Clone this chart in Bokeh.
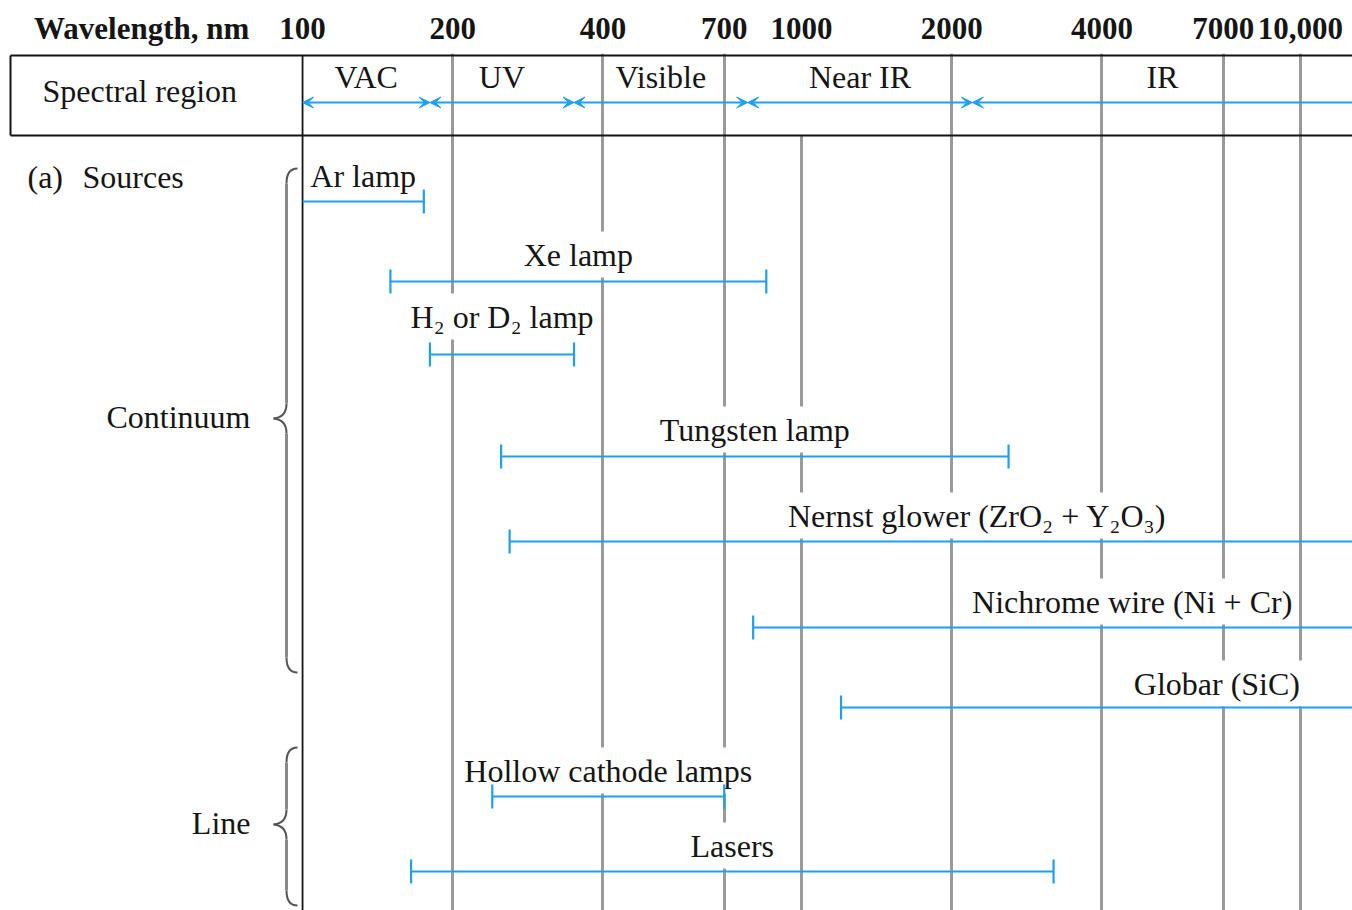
import numpy as np
from bokeh.plotting import figure
from bokeh.models import Range1d, FixedTicker, ColumnDataSource, Arrow, VeeHead, LinearScale
from bokeh.core.properties import value
from bokeh.embed import file_html
from bokeh.resources import INLINE

# ---------------- data ----------------
tick_values = [100, 200, 400, 700, 1000, 2000, 4000, 7000, 10000]
tick_labels = ["100", "200", "400", "700", "1000", "2000", "4000", "7000", "10,000"]
axis_title = "Wavelength, nm"

regions = ["VAC", "UV", "Visible", "Near IR", "IR"]
region_start = [100, 180, 350, 780, 2200]
region_end = [180, 350, 780, 2200, None]          # None = continues past the chart

sources = ["Ar lamp", "Xe lamp", "H\u2082 or D\u2082 lamp", "Tungsten lamp",
           "Nernst glower (ZrO\u2082 + Y\u2082O\u2083)", "Nichrome wire (Ni + Cr)",
           "Globar (SiC)", "Hollow cathode lamps", "Lasers"]
source_start = [100, 150, 180, 250, 260, 800, 1200, 240, 165]
source_end = [175, 850, 350, 2600, None, None, None, 700, 3200]
source_kind = ["Continuum"] * 7 + ["Line"] * 2

# ---------------- layout / style ----------------
W, H = 1352, 910
X_MIN, X_MAX = 24.81, 12714.0
AXIS_TITLE_AT = 47.6                 # where the axis title sits on the wavelength scale
FAR = 1e6
TDY = -12                            # baseline correction for text glyphs
row_y = [146, 226, 299, 401, 486, 572, 652, 741, 816]
label_gap = [14, 15, 26, 15, 14, 14, 12, 14, 14]
open_label_at = {4: 2250, 5: 4600, 6: 6800}
BLUE = "#1f9ff0"
GRID = "#9a9a9a"
INK = "#151515"
FONT = "Liberation Serif"
FS = "32px"

p = figure(width=W, height=H, x_axis_type="log", x_axis_location="above",
           y_axis_location=None, x_range=Range1d(X_MIN, X_MAX),
           y_range=Range1d(855, -2), output_backend="svg", toolbar_location=None,
           min_border_left=0, min_border_right=0, min_border_bottom=0, min_border_top=53,
           outline_line_color=None, background_fill_color="white")
p.extra_x_ranges = {"panel": Range1d(0, W)}
p.extra_x_scales = {"panel": LinearScale()}

# axis (top)
ax = p.xaxis[0]
ax.ticker = FixedTicker(ticks=[AXIS_TITLE_AT] + tick_values)
overrides = {v: s for v, s in zip(tick_values, tick_labels)}
overrides[AXIS_TITLE_AT] = axis_title
ax.major_label_overrides = overrides
ax.major_label_text_font = FONT
ax.major_label_text_font_style = "bold"
ax.major_label_text_font_size = "31px"
ax.major_label_text_color = INK
ax.major_label_standoff = 2
ax.axis_line_color = None
ax.major_tick_line_color = None
ax.minor_tick_line_color = None

# grid: wavelength lines (1000 drawn separately, it starts below the header)
p.xgrid.ticker = FixedTicker(ticks=[v for v in tick_values if v not in (100, 1000)])
p.xgrid.grid_line_color = GRID
p.xgrid.grid_line_width = 3
p.ygrid.visible = False

HEADER_BOTTOM = 80
p.segment(x0=[1000], y0=[HEADER_BOTTOM], x1=[1000], y1=[855], line_color=GRID, line_width=3)
p.segment(x0=[tick_values[0]], y0=[0], x1=[tick_values[0]], y1=[855], line_color=INK, line_width=1.8)

# header box
p.segment(x0=[10, 10, 10], y0=[0, HEADER_BOTTOM, 0], x1=[W, W, 10], y1=[0, HEADER_BOTTOM, HEADER_BOTTOM],
          line_color=INK, line_width=2, x_range_name="panel")

# spectral regions
r_end = [FAR if e is None else e for e in region_end]
r_mid = [np.sqrt(s * (X_MAX if e is None else e)) for s, e in zip(region_start, region_end)]
arrow_src = ColumnDataSource(dict(x0=region_start, x1=r_end, y=[47] * len(regions)))
p.add_layout(Arrow(start=VeeHead(size=11, fill_color=BLUE, line_color=BLUE, line_width=1),
                   end=VeeHead(size=11, fill_color=BLUE, line_color=BLUE, line_width=1),
                   x_start="x0", y_start="y", x_end="x1", y_end="y", source=arrow_src,
                   line_color=BLUE, line_width=2))
p.text(x=r_mid, y=[33 + TDY] * len(regions), text=regions, text_align="center", text_baseline="alphabetic",
       text_font=value(FONT), text_font_size=FS, text_color=INK)

# sources: labels (white box hides the grid), then bars on top
s_end = [FAR if e is None else e for e in source_end]
lab_x = [open_label_at.get(i, np.sqrt(s * (e if e else X_MAX)))
         for i, (s, e) in enumerate(zip(source_start, source_end))]
lab_y = [y - g + TDY for y, g in zip(row_y, label_gap)]
src = ColumnDataSource(dict(x0=source_start, x1=s_end, y=row_y, lx=lab_x, ly=lab_y, name=sources))

p.text(x="lx", y="ly", text="name", source=src, text_align="center", text_baseline="alphabetic",
       text_font=value(FONT), text_font_size=FS, text_color=INK,
       background_fill_color="white", padding=5)

p.segment(x0="x0", y0="y", x1="x1", y1="y", source=src, line_color=BLUE, line_width=2.2)
cap_x, cap_y = [], []
for s, e, y in zip(source_start, source_end, row_y):
    if s > tick_values[0]:
        cap_x.append(s); cap_y.append(y)
    if e is not None:
        cap_x.append(e); cap_y.append(y)
p.segment(x0=cap_x, y0=[y - 12 for y in cap_y], x1=cap_x, y1=[y + 12 for y in cap_y],
          line_color=BLUE, line_width=2.2)

# left panel texts
p.text(x=[42], y=[47 + TDY], text=["Spectral region"], x_range_name="panel", text_baseline="alphabetic",
       text_font=value(FONT), text_font_size=FS, text_color=INK)
p.text(x=[27, 82], y=[133 + TDY, 133 + TDY], text=["(a)", "Sources"], x_range_name="panel",
       text_baseline="alphabetic", text_font=value(FONT), text_font_size=FS, text_color=INK)
groups = ["Continuum", "Line"]
brace_span = {"Continuum": (113, 363, 617), "Line": (692, 769, 850)}
p.text(x=[250, 250], y=[brace_span[g][1] + 10 + TDY for g in groups], text=groups, x_range_name="panel",
       text_align="right", text_baseline="alphabetic",
       text_font=value(FONT), text_font_size=FS, text_color=INK)

# braces
def brace(ytop, ymid, ybot, xs=297, xv=286, xt=273, r=15):
    q = dict(x0=[], y0=[], x1=[], y1=[], cx=[], cy=[])
    def add(a, b, c):
        q["x0"].append(a[0]); q["y0"].append(a[1]); q["x1"].append(c[0]); q["y1"].append(c[1])
        q["cx"].append(b[0]); q["cy"].append(b[1])
    add((xs, ytop), (xv, ytop), (xv, ytop + r))
    add((xv, ymid - r), (xv, ymid - 1), (xt, ymid))
    add((xt, ymid), (xv, ymid + 1), (xv, ymid + r))
    add((xv, ybot - r), (xv, ybot), (xs, ybot))
    segs = dict(x0=[xv, xv], y0=[ytop + r, ymid + r], x1=[xv, xv], y1=[ymid - r, ybot - r])
    return q, segs

for g in groups:
    q, segs = brace(*brace_span[g])
    p.quadratic(source=ColumnDataSource(q), x0="x0", y0="y0", x1="x1", y1="y1", cx="cx", cy="cy",
                line_color="#555555", line_width=2, x_range_name="panel")
    p.segment(source=ColumnDataSource(segs), x0="x0", y0="y0", x1="x1", y1="y1",
              line_color="#8a8a8a", line_width=3, x_range_name="panel")

open("out.html", "w").write(file_html(p, INLINE))
